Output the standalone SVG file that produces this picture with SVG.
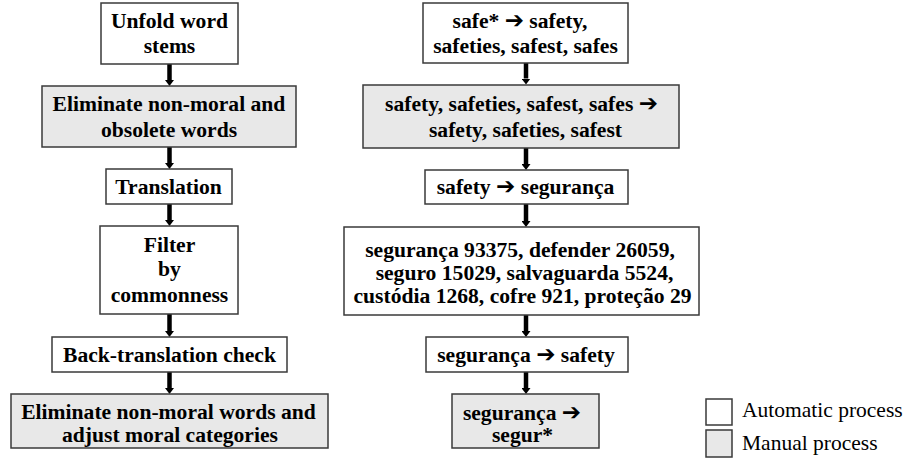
<svg xmlns="http://www.w3.org/2000/svg" width="905" height="460" viewBox="0 0 905 460">
<style>
.box{fill:#ffffff;stroke:#3a3a3a;stroke-width:1.5}
.man{fill:#e8e8e8;stroke:#3a3a3a;stroke-width:1.5}
.t{font-family:"Liberation Serif","Times New Roman",serif;font-weight:bold;font-size:21.6px;fill:#000;text-anchor:middle}
.ar{font-family:"DejaVu Sans",sans-serif;font-weight:bold;font-size:23px}
.lg{font-family:"Liberation Serif","Times New Roman",serif;font-size:21.5px;fill:#000}
.con{stroke:#000;stroke-width:4.5;fill:none;marker-end:url(#ah)}
</style>
<defs>
<marker id="ah" viewBox="0 0 6 9" refX="0" refY="4.5" markerWidth="6" markerHeight="9" markerUnits="userSpaceOnUse" orient="auto">
<path d="M0,0 L6,4.5 L0,9 z" fill="#000"/>
</marker>
</defs>
<rect width="905" height="460" fill="#ffffff"/>

<g id="connectors">
<line class="con" x1="169.5" y1="64" x2="169.5" y2="80"/>
<line class="con" x1="169.5" y1="147" x2="169.5" y2="163"/>
<line class="con" x1="169.5" y1="204" x2="169.5" y2="220"/>
<line class="con" x1="169.5" y1="314" x2="169.5" y2="331"/>
<line class="con" x1="169.5" y1="372" x2="169.5" y2="388"/>
<line class="con" x1="526" y1="63" x2="526" y2="78.5"/>
<line class="con" x1="526" y1="148" x2="526" y2="164"/>
<line class="con" x1="526" y1="204" x2="526" y2="221"/>
<line class="con" x1="526" y1="315" x2="526" y2="331"/>
<line class="con" x1="526" y1="372" x2="526" y2="388"/>
</g>

<g id="unfold">
<rect class="box" x="101" y="3" width="137" height="61"/>
<text class="t" x="169.5" y="28">Unfold word</text>
<text class="t" x="169.5" y="53">stems</text>
</g>
<g id="elim1">
<rect class="man" x="42" y="86" width="254" height="61"/>
<text class="t" x="169" y="111">Eliminate non-moral and</text>
<text class="t" x="169" y="137">obsolete words</text>
</g>
<g id="translation">
<rect class="box" x="106" y="169" width="126" height="35"/>
<text class="t" x="168.5" y="194">Translation</text>
</g>
<g id="filter">
<rect class="box" x="100" y="226" width="138" height="88"/>
<text class="t" x="169.5" y="252">Filter</text>
<text class="t" x="169.5" y="276">by</text>
<text class="t" x="169.5" y="302">commonness</text>
</g>
<g id="backtrans">
<rect class="box" x="52" y="337" width="235" height="35"/>
<text class="t" x="169.5" y="362">Back-translation check</text>
</g>
<g id="elim2">
<rect class="man" x="11" y="394" width="317" height="54"/>
<text class="t" x="168.5" y="418.5">Eliminate non-moral words and</text>
<text class="t" x="170" y="442">adjust moral categories</text>
</g>

<g id="r-unfold">
<rect class="box" x="423" y="3" width="205" height="60"/>
<text class="t" x="520" y="28">safe* <tspan class="ar">➔</tspan> safety,</text>
<text class="t" x="525.5" y="53">safeties, safest, safes</text>
</g>
<g id="r-elim1">
<rect class="man" x="363" y="85" width="316" height="63"/>
<text class="t" x="521.5" y="111">safety, safeties, safest, safes <tspan class="ar">➔</tspan></text>
<text class="t" x="525.5" y="137">safety, safeties, safest</text>
</g>
<g id="r-translation">
<rect class="box" x="425" y="170" width="203" height="34"/>
<text class="t" x="525.5" y="194">safety <tspan class="ar">➔</tspan> segurança</text>
</g>
<g id="r-filter">
<rect class="box" x="344" y="227" width="355" height="88"/>
<text class="t" x="520" y="257">segurança 93375, defender 26059,</text>
<text class="t" x="524.5" y="280">seguro 15029, salvaguarda 5524,</text>
<text class="t" x="522.5" y="303">custódia 1268, cofre 921, proteção 29</text>
</g>
<g id="r-backtrans">
<rect class="box" x="426" y="337" width="202" height="35"/>
<text class="t" x="526" y="362">segurança <tspan class="ar">➔</tspan> safety</text>
</g>
<g id="r-elim2">
<rect class="man" x="452" y="394" width="147" height="54"/>
<text class="t" x="522" y="420">segurança <tspan class="ar">➔</tspan></text>
<text class="t" x="522.5" y="442">segur*</text>
</g>

<g id="legend">
<rect class="box" x="706" y="399" width="26" height="26"/>
<text class="lg" x="742" y="417">Automatic process</text>
<rect class="man" x="706" y="430" width="26" height="27"/>
<text class="lg" x="742" y="450">Manual process</text>
</g>
</svg>
